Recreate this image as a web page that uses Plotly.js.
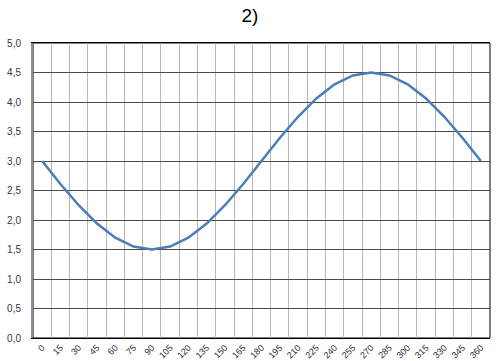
<!DOCTYPE html>
<html><head><meta charset="utf-8">
<script src="https://cdn.plot.ly/plotly-3.0.1.min.js"></script>
<style>html,body{margin:0;padding:0;background:#fff}#c{width:500px;height:361px}</style>
</head><body><div id="c"></div>
<script>
const categories = ["0","15","30","45","60","75","90","105","120","135","150","165","180","195","210","225","240","255","270","285","300","315","330","345","360"];
const values = [3.00,2.61,2.25,1.94,1.70,1.55,1.50,1.55,1.70,1.94,2.25,2.61,3.00,3.39,3.75,4.06,4.30,4.45,4.50,4.45,4.30,4.06,3.75,3.39,3.00];
const yTicks = [0,0.5,1,1.5,2,2.5,3,3.5,4,4.5,5];
const yTickText = ["0,0","0,5","1,0","1,5","2,0","2,5","3,0","3,5","4,0","4,5","5,0"];

Plotly.newPlot('c', [{
  x: categories, y: values, type: 'scatter', mode: 'lines',
  line: {color: '#4a7ebb', width: 2.5}, hoverinfo: 'none'
}], {
  width: 500, height: 361,
  margin: {l: 33, r: 10, t: 43, b: 23},
  paper_bgcolor: '#fff', plot_bgcolor: '#fff',
  showlegend: false,
  title: {text: '2)', x: 0.5, xanchor: 'center', y: 0.957, yanchor: 'middle',
          font: {family: 'Liberation Sans, Arial', size: 19, color: '#000', weight: 'normal'}},
  shapes: [{type: 'rect', xref: 'paper', yref: 'paper', x0: 0, x1: 1, y0: 0, y1: 1,
            line: {color: '#000', width: 1}, layer: 'below'}],
  xaxis: {type: 'category', tickson: 'boundaries', showgrid: true, gridcolor: '#b4b4b4', gridwidth: 1,
          tickangle: -45, tickfont: {family: 'Liberation Sans, Arial', size: 9, color: '#2f2a4a'},
          showline: true, linecolor: '#000', linewidth: 1, mirror: true, ticks: '', ticklen: 0,
          range: [-0.5, 24.5], zeroline: false, fixedrange: true},
  yaxis: {range: [0, 5], tickvals: yTicks, ticktext: yTickText, showgrid: true, gridcolor: '#4a4a4a', gridwidth: 1,
          tickfont: {family: 'Liberation Sans, Arial', size: 10, color: '#3a2f5c'},
          ticklabelstandoff: 8,
          showline: true, linecolor: '#8c8c8c', linewidth: 2, zeroline: false, ticks: '', fixedrange: true}
}, {displayModeBar: false, staticPlot: true});
</script></body></html>
